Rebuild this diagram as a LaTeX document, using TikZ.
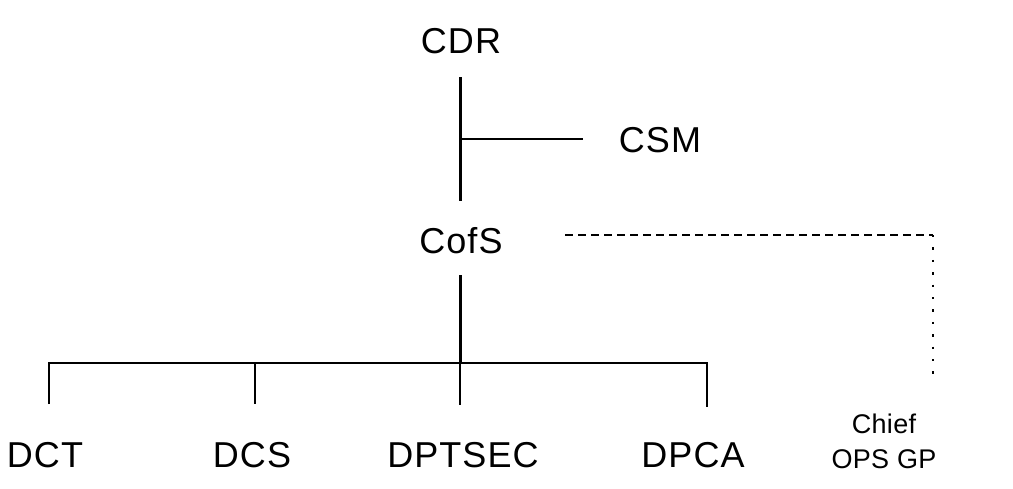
\documentclass[tikz,border=0pt]{standalone}
\usepackage{fontspec}
\setmainfont{Liberation Sans}
\newfontfamily\bigfont[LetterSpace=3]{Liberation Sans}
\newfontfamily\smallfont[LetterSpace=1]{Liberation Sans}
\begin{document}
\begin{tikzpicture}[x=0.5pt,y=-0.5pt,
  lbl/.style={font=\bigfont\fontsize{18}{21}\selectfont, inner sep=0pt, anchor=base},
  sml/.style={font=\smallfont\fontsize{13.5}{17.5}\selectfont, inner sep=0pt, align=center},
  solidline/.style={line width=1.5pt},
  busline/.style={line width=1.1pt},
  dashline/.style={line width=0.9pt, dash pattern=on 4pt off 2.5pt},
  dotline/.style={line width=0.9pt, dash pattern=on 1.2pt off 5pt}]
\useasboundingbox (0,0) rectangle (1013,488);
\node[lbl] (CDR) at (461,53) {CDR};
\node[lbl] (CSM) at (660,152) {CSM};
\node[lbl] (CofS) at (461,253) {CofS};
\node[lbl] (DCT) at (45,467) {DCT};
\node[lbl] (DCS) at (252,467) {DCS};
\node[lbl] (DPTSEC) at (463,467) {DPTSEC};
\node[lbl] (DPCA) at (693,467) {DPCA};
\node[sml] (Chief) at (884,441) {Chief\\OPS GP};
% coordinates
\coordinate (cdrTop) at (460,77);
\coordinate (cofsTop) at (460,201);
\coordinate (csmJ) at (460,139);
\coordinate (csmEnd) at (583,139);
\coordinate (cofsBot) at (460,275);
\coordinate (busL) at (49,363);
\coordinate (busR) at (707,363);
\coordinate (busM) at (460,363);
\coordinate (dct) at (49,404);
\coordinate (dcs) at (255,404);
\coordinate (dptsec) at (460,405);
\coordinate (dpca) at (707,407);
\coordinate (dashS) at (565,235);
\coordinate (dashC) at (933,235);
\coordinate (dashE) at (933,382);
% connectors
\draw[solidline] (cdrTop) -- (cofsTop);
\draw[busline] (csmJ) -- (csmEnd);
\draw[solidline] (cofsBot) -- (busM);
\draw[busline] (dct) -- (busL) -- (busR) -- (dpca);
\draw[busline] (busM) -- (dptsec);
\draw[busline] (255,363) -- (dcs);
\draw[dashline] (dashS) -- (dashC);
\draw[dotline] (dashC) -- (dashE);
\end{tikzpicture}
\end{document}
